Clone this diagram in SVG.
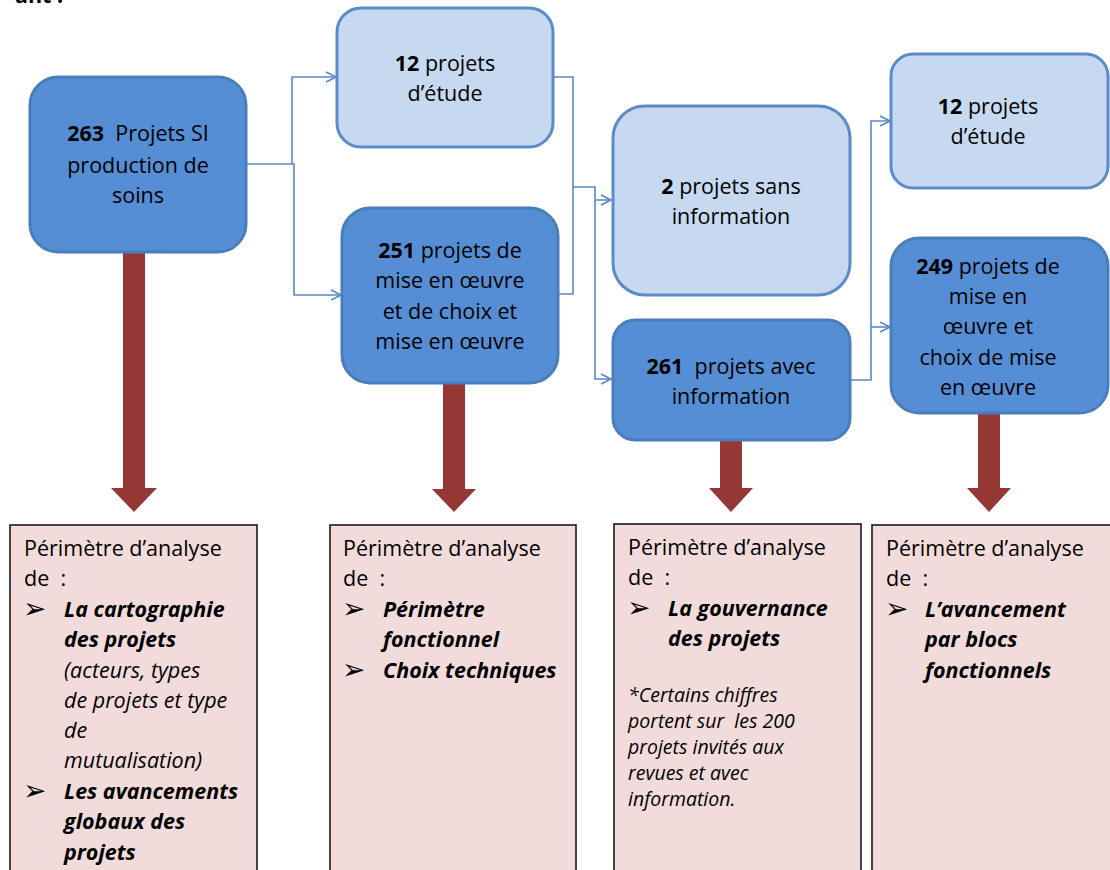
<svg xmlns="http://www.w3.org/2000/svg" width="1110" height="870" viewBox="0 0 1110 870">
<defs>
<style>
.dark{fill:#558ED5;stroke:#4A7EBB;stroke-width:3}
.light{fill:#C6D9F1;stroke:#5B8BC9;stroke-width:3}
.pink{fill:#F2DCDB;stroke:#1a1a1a;stroke-width:1.6}
.t{font-family:"Open Sans",Lato,sans-serif;font-size:21.5px;fill:#000;white-space:pre}
.c{text-anchor:middle}
.b{font-weight:bold}
.bi{font-weight:bold;font-style:italic}
.i{font-style:italic}
.fn{font-family:"Open Sans",Lato,sans-serif;font-size:19.5px;font-style:italic;fill:#000;white-space:pre}
.bul{font-family:"DejaVu Sans",sans-serif;font-size:28px;font-weight:bold;fill:#000}
.con{fill:none;stroke:#5A88C6;stroke-width:1.6}
.red{fill:#953735}
</style>
<marker id="open" viewBox="0 0 12 12" refX="11" refY="6" markerWidth="12" markerHeight="12" markerUnits="userSpaceOnUse" orient="auto">
<path d="M1,1 L11,6 L1,11" fill="none" stroke="#5A88C6" stroke-width="1.6"/>
</marker>
</defs>
<text x="15" y="3" class="t b">ant :</text>

<g id="connectors">
<path class="con" d="M246,164 H292 V77 H336" marker-end="url(#open)"/>
<path class="con" d="M292,164 H294 V295 H341" marker-end="url(#open)"/>
<path class="con" d="M553,77 H573 V294 H558"/>
<path class="con" d="M573,187 H595 V200 H611" marker-end="url(#open)"/>
<path class="con" d="M595,200 V379 H611" marker-end="url(#open)"/>
<path class="con" d="M850,380 H871 V121 H890" marker-end="url(#open)"/>
<path class="con" d="M871,327 H890" marker-end="url(#open)"/>
<polygon class="red" points="123,253 145,253 145,488 157,488 134,512 111,488 123,488"/>
<polygon class="red" points="443,383 465,383 465,489 476,489 454,512 432,489 443,489"/>
<polygon class="red" points="720,440 742,440 742,488 753,488 731,512 709,488 720,488"/>
<polygon class="red" points="978,413 1000,413 1000,488 1011,488 989,512 967,488 978,488"/>
</g>

<g id="n263">
<rect class="dark" x="30" y="77" width="216" height="175" rx="28"/>
<text class="t c" x="138" y="141" xml:space="preserve"><tspan class="b">263</tspan>  Projets SI</text>
<text class="t c" x="138" y="173">production de</text>
<text class="t c" x="138" y="203">soins</text>
</g>

<g id="n12a">
<rect class="light" x="337" y="8" width="216" height="139" rx="24"/>
<text class="t c" x="445" y="71"><tspan class="b">12</tspan> projets</text>
<text class="t c" x="445" y="101">d’étude</text>
</g>

<g id="n251">
<rect class="dark" x="342" y="208" width="216" height="175" rx="28"/>
<text class="t c" x="450" y="258"><tspan class="b">251</tspan> projets de</text>
<text class="t c" x="450" y="288">mise en œuvre</text>
<text class="t c" x="450" y="319">et de choix et</text>
<text class="t c" x="450" y="349">mise en œuvre</text>
</g>

<g id="n2">
<rect class="light" x="613" y="106" width="237" height="189" rx="32"/>
<text class="t c" x="731" y="194"><tspan class="b">2</tspan> projets sans</text>
<text class="t c" x="731" y="224">information</text>
</g>

<g id="n261">
<rect class="dark" x="613" y="320" width="237" height="120" rx="22"/>
<text class="t c" x="731" y="374" xml:space="preserve"><tspan class="b">261</tspan>  projets avec</text>
<text class="t c" x="731" y="404">information</text>
</g>

<g id="n12b">
<rect class="light" x="891" y="54" width="217" height="134" rx="22"/>
<text class="t c" x="988" y="114"><tspan class="b">12</tspan> projets</text>
<text class="t c" x="988" y="144">d’étude</text>
</g>

<g id="n249">
<rect class="dark" x="891" y="238" width="217" height="175" rx="28"/>
<text class="t c" x="988" y="274"><tspan class="b">249</tspan> projets de</text>
<text class="t c" x="988" y="304">mise en</text>
<text class="t c" x="988" y="334">œuvre et</text>
<text class="t c" x="988" y="365">choix de mise</text>
<text class="t c" x="988" y="395">en œuvre</text>
</g>

<g id="p1">
<rect class="pink" x="10" y="525" width="247" height="360"/>
<text class="t" x="24" y="556">Périmètre d’analyse</text>
<text class="t" x="24" y="586" xml:space="preserve">de  :</text>
<text class="bul" x="23" y="618">➢</text>
<text class="t bi" x="64" y="617">La cartographie</text>
<text class="t bi" x="64" y="647">des projets</text>
<text class="t i" x="64" y="678">(acteurs, types</text>
<text class="t i" x="64" y="708">de projets et type</text>
<text class="t i" x="64" y="738">de</text>
<text class="t i" x="64" y="768">mutualisation)</text>
<text class="bul" x="23" y="800">➢</text>
<text class="t bi" x="64" y="799">Les avancements</text>
<text class="t bi" x="64" y="829">globaux des</text>
<text class="t bi" x="64" y="860">projets</text>
</g>

<g id="p2">
<rect class="pink" x="330" y="525" width="246" height="360"/>
<text class="t" x="343" y="556">Périmètre d’analyse</text>
<text class="t" x="343" y="586" xml:space="preserve">de  :</text>
<text class="bul" x="342" y="618">➢</text>
<text class="t bi" x="383" y="617">Périmètre</text>
<text class="t bi" x="383" y="647">fonctionnel</text>
<text class="bul" x="342" y="679">➢</text>
<text class="t bi" x="383" y="678">Choix techniques</text>
</g>

<g id="p3">
<rect class="pink" x="614" y="524" width="247" height="360"/>
<text class="t" x="628" y="555">Périmètre d’analyse</text>
<text class="t" x="628" y="585" xml:space="preserve">de  :</text>
<text class="bul" x="627" y="617">➢</text>
<text class="t bi" x="668" y="616">La gouvernance</text>
<text class="t bi" x="668" y="646">des projets</text>
<text class="fn" x="628" y="702">*Certains chiffres</text>
<text class="fn" x="628" y="728" xml:space="preserve">portent sur  les 200</text>
<text class="fn" x="628" y="754">projets invités aux</text>
<text class="fn" x="628" y="780">revues et avec</text>
<text class="fn" x="628" y="806">information.</text>
</g>

<g id="p4">
<rect class="pink" x="872" y="525" width="250" height="360"/>
<text class="t" x="886" y="556">Périmètre d’analyse</text>
<text class="t" x="886" y="586" xml:space="preserve">de  :</text>
<text class="bul" x="885" y="618">➢</text>
<text class="t bi" x="925" y="617">L’avancement</text>
<text class="t bi" x="925" y="647">par blocs</text>
<text class="t bi" x="925" y="678">fonctionnels</text>
</g>
</svg>
